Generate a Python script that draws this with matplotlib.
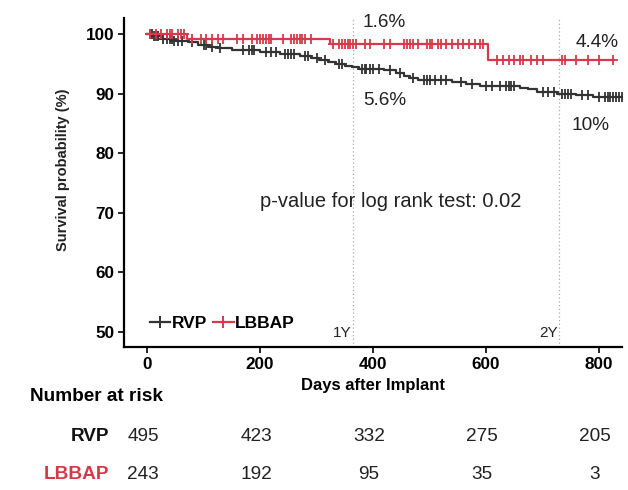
import matplotlib
matplotlib.use("Agg")
import matplotlib.pyplot as plt
import matplotlib.transforms as mtransforms
from matplotlib.lines import Line2D

plt.rcParams['font.family'] = ['Liberation Sans', 'DejaVu Sans']

# Kaplan-Meier steps (day, survival %)
rvp_days = [0, 10, 25, 45, 75, 90, 110, 125, 150, 200, 235, 270, 290, 305, 320, 335, 350, 362,
            375, 420, 440, 455, 465, 480, 540, 565, 590, 660, 675, 690, 725, 760, 790]
rvp_surv = [100, 99.6, 99.2, 98.9, 98.6, 98.2, 97.9, 97.6, 97.3, 97.0, 96.7, 96.3, 96.0, 95.7,
            95.3, 95.0, 94.7, 94.4, 94.1, 93.9, 93.4, 93.0, 92.6, 92.3, 92.0, 91.6, 91.3, 91.0,
            90.7, 90.3, 90.0, 89.7, 89.4]
rvp_end = 842

lbbap_days = [0, 70, 324, 604]
lbbap_surv = [100, 99.1, 98.4, 95.6]
lbbap_end = 826

# censoring marks (days)
rvp_cens = [5, 8, 12, 16, 20, 28, 35, 40, 44, 48, 55, 62, 80, 100, 105, 115, 130, 170, 180, 185,
            190, 210, 220, 228, 245, 250, 255, 260, 280, 285, 300, 315, 340, 345, 380, 385, 388,
            395, 400, 410, 430, 448, 470, 490, 495, 500, 510, 520, 530, 555, 575, 600, 610, 625,
            635, 640, 645, 650, 700, 710, 720, 735, 740, 745, 750, 770, 780, 800, 810, 815, 820,
            825, 830, 835, 840]
lbbap_cens = [5, 15, 25, 35, 40, 45, 55, 60, 65, 80, 95, 105, 115, 125, 135, 160, 170, 185, 195,
              200, 205, 210, 215, 220, 240, 255, 260, 265, 270, 275, 280, 290, 330, 340, 345, 350,
              355, 360, 365, 370, 385, 395, 420, 430, 455, 460, 465, 470, 480, 495, 500, 505, 515,
              520, 530, 540, 550, 560, 570, 580, 590, 595, 620, 630, 640, 650, 660, 665, 680, 690,
              700, 735, 740, 760, 780, 800, 825]

risk_times = [0, 200, 400, 600, 800]
rvp_risk = [495, 423, 332, 275, 205]
lbbap_risk = [243, 192, 95, 35, 3]

red = '#d63a4a'
dark = '#333333'


def surv_at(days, surv, t):
    s = surv[0]
    for d, v in zip(days, surv):
        if d <= t:
            s = v
    return s


fig = plt.figure(figsize=(6.28, 4.9), dpi=100)
ax = fig.add_axes([0.1975, 0.2918, 0.793, 0.6714])

# year lines
for d in [365, 730]:
    ax.axvline(d, color='#aaaaaa', linestyle=(0, (1, 2)), linewidth=0.9, zorder=1)
ax.text(362, 48.6, '1Y', ha='right', va='bottom', fontsize=11, color='#222222')
ax.text(727, 48.6, '2Y', ha='right', va='bottom', fontsize=11, color='#222222')

# curves
ax.step(rvp_days + [rvp_end], rvp_surv + [rvp_surv[-1]], where='post', color=dark, linewidth=1.6, zorder=3)
ax.step(lbbap_days + [lbbap_end], lbbap_surv + [lbbap_surv[-1]], where='post', color=red, linewidth=1.6, zorder=4)
ax.plot(rvp_cens, [surv_at(rvp_days, rvp_surv, t) for t in rvp_cens], linestyle='none',
        marker='+', markersize=7, markeredgewidth=1.3, color=dark, zorder=3)
ax.plot(lbbap_cens, [surv_at(lbbap_days, lbbap_surv, t) for t in lbbap_cens], linestyle='none',
        marker='+', markersize=7, markeredgewidth=1.3, color=red, zorder=4)

# annotations
ax.text(420, 101.9, '1.6%', ha='center', va='center', fontsize=13.7, color='#222222')
ax.text(420, 88.9, '5.6%', ha='center', va='center', fontsize=13.7, color='#222222')
ax.text(796, 98.6, '4.4%', ha='center', va='center', fontsize=13.7, color='#222222')
ax.text(785, 84.6, '10%', ha='center', va='center', fontsize=13.7, color='#222222')
ax.text(432, 71.9, 'p-value for log rank test: 0.02', ha='center', va='center', fontsize=14.5,
        color='#222222')

ax.set_xlim(-40.7, 840.7)
ax.set_ylim(47.4, 102.7)
ax.set_xticks([0, 200, 400, 600, 800])
ax.set_yticks([50, 60, 70, 80, 90, 100])
for s in ['top', 'right']:
    ax.spines[s].set_visible(False)
for s in ['left', 'bottom']:
    ax.spines[s].set_linewidth(1.6)
ax.tick_params(direction='out', length=4, width=1.2, labelsize=12.3, pad=3)
for lab in ax.get_xticklabels() + ax.get_yticklabels():
    lab.set_fontweight('bold')
ax.set_xlabel('Days after Implant', fontsize=12, fontweight='bold')
ax.xaxis.set_label_coords(0.5, -0.095)
ax.set_ylabel('Survival probability (%)', fontsize=10.5, fontweight='bold', color='#222222')
ax.yaxis.set_label_coords(-0.108, 0.54)

handles = [Line2D([], [], color=dark, marker='+', markersize=8, markeredgewidth=1.4, linewidth=1.6),
           Line2D([], [], color=red, marker='+', markersize=8, markeredgewidth=1.4, linewidth=1.6)]
leg = ax.legend(handles, ['RVP', 'LBBAP'], loc='lower left', ncol=2, frameon=False, numpoints=1,
                bbox_to_anchor=(0.02, 0.0), handlelength=1.2, handletextpad=0.1,
                columnspacing=0.3, prop={'weight': 'bold', 'size': 12.5})

# number at risk table
trans = mtransforms.blended_transform_factory(ax.transData, fig.transFigure)
fig.text(30 / 628, 1 - 396 / 490, 'Number at risk', ha='left', va='center', fontsize=13.7,
         fontweight='bold')
fig.text(109 / 628, 1 - 436 / 490, 'RVP', ha='right', va='center', fontsize=13.7,
         fontweight='bold', color='#111111')
fig.text(109 / 628, 1 - 474 / 490, 'LBBAP', ha='right', va='center', fontsize=13.7,
         fontweight='bold', color=red)
for t, n in zip(risk_times, rvp_risk):
    fig.text(t - 7, 1 - 436 / 490, str(n), ha='center', va='center', fontsize=13.7,
             color='#222222', transform=trans)
for t, n in zip(risk_times, lbbap_risk):
    fig.text(t - 7, 1 - 474 / 490, str(n), ha='center', va='center', fontsize=13.7,
             color='#222222', transform=trans)

fig.savefig('out.png', dpi=100)
